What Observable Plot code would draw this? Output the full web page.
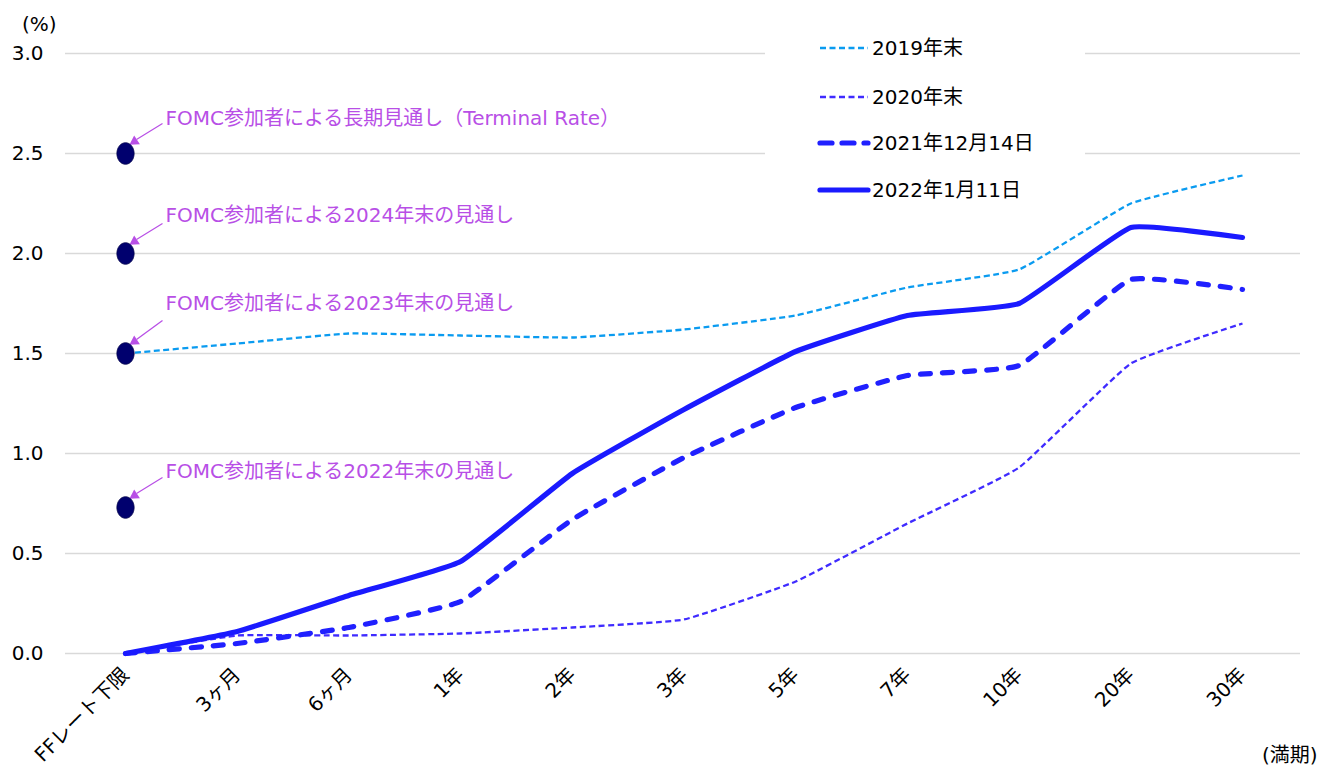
<!DOCTYPE html>
<html><head><meta charset="utf-8">
<script src="https://cdn.jsdelivr.net/npm/d3@7"></script>
<script src="https://cdn.jsdelivr.net/npm/@observablehq/plot@0.6"></script>
<style>
body{margin:0;background:#fff;font-family:"DejaVu Sans","Noto Sans CJK JP",sans-serif;}
#wrap{position:relative;width:1320px;height:769px;overflow:hidden;}
#legend{position:absolute;left:765px;top:28px;width:320px;height:188px;background:#fff;}
.note{position:absolute;font-size:20px;line-height:24px;color:#000;white-space:nowrap;}
</style></head>
<body><div id="wrap"></div>
<script>
// ---- data ----
const maturities = ["FFレート下限","3ヶ月","6ヶ月","1年","2年","3年","5年","7年","10年","20年","30年"];
const seriesNames = ["2019年末","2020年末","2021年12月14日","2022年1月11日"];
const end2019 = [1.50,1.55,1.60,1.59,1.58,1.62,1.69,1.83,1.92,2.25,2.39];
const end2020 = [0.00,0.09,0.09,0.10,0.13,0.17,0.36,0.65,0.93,1.45,1.65];
const dec2021 = [0.00,0.05,0.13,0.26,0.67,0.98,1.23,1.39,1.44,1.87,1.82];
const jan2022 = [0.00,0.11,0.29,0.46,0.90,1.22,1.51,1.69,1.75,2.13,2.08];
const fomcValues = [2.50,2.00,1.50,0.73];
const fomcLabels = ["FOMC参加者による長期見通し（Terminal Rate）","FOMC参加者による2024年末の見通し","FOMC参加者による2023年末の見通し","FOMC参加者による2022年末の見通し"];
const yTicks = [0,0.5,1.0,1.5,2.0,2.5,3.0];

// ---- styles ----
const styles = [
  {stroke:"#0a9bf0", strokeWidth:2.3, dash:"6,3.5", cap:"butt"},
  {stroke:"#3f2bff", strokeWidth:2.3, dash:"6,3.5", cap:"butt"},
  {stroke:"#2020ff", strokeWidth:5.2, dash:"10,12", cap:"round"},
  {stroke:"#1a1aff", strokeWidth:5.2, dash:null, cap:"round"}
];
const seriesValues = [end2019,end2020,dec2021,jan2022];
const font = '"DejaVu Sans","Noto Sans CJK JP",sans-serif';
const annColor = "#b84fe6";

// layout constants
const W = 1320, H = 769, mL = 65, mR = 20, mT = 53, mB = 116, inL = 60, inR = 58;
const stepX = (W - mR - inR - (mL + inL)) / (maturities.length - 1);
const pxY = (H - mT - mB) / 3;
const labelDy = [-35,-38,-50,-36];
const tailOff = [-30,-30,-33,-30];
const tail = {dx:37}, head = {dx:11, dy:-14};

const ellipse = {draw(ctx, size){
  const r = Math.sqrt(size/Math.PI), rx = r*0.8, ry = r, k = 0.5523;
  ctx.moveTo(rx,0);
  ctx.bezierCurveTo(rx,ry*k,rx*k,ry,0,ry);
  ctx.bezierCurveTo(-rx*k,ry,-rx,ry*k,-rx,0);
  ctx.bezierCurveTo(-rx,-ry*k,-rx*k,-ry,0,-ry);
  ctx.bezierCurveTo(rx*k,-ry,rx,-ry*k,rx,0);
  ctx.closePath();
}};

const idx = d3.range(maturities.length);
const lineMarks = seriesValues.map((vals,s) => Plot.line(idx, {
  x: i => i, y: i => vals[i], curve: "cardinal", tension: 0.65,
  stroke: styles[s].stroke, strokeWidth: styles[s].strokeWidth,
  strokeDasharray: styles[s].dash, strokeLinecap: styles[s].cap, strokeLinejoin: "round"
}));

const ann = fomcValues.map((v,k) => ({v, k, label: fomcLabels[k]}));

const chart = Plot.plot({
  width: W, height: H, marginLeft: mL, marginRight: mR, marginTop: mT, marginBottom: mB,
  style: {fontFamily: font, fontSize: "20px", color: "#000", background: "transparent", overflow: "visible"},
  x: {type: "linear", domain: [0, maturities.length - 1], insetLeft: inL, insetRight: inR},
  y: {domain: [0, 3]},
  marks: [
    Plot.ruleY(yTicks, {stroke: "#d9d9d9", strokeWidth: 1.3}),
    Plot.axisY({ticks: yTicks, tickFormat: d => d.toFixed(1), tickSize: 0, tickPadding: 22, label: null, fontSize: 20, fill: "#000"}),
    Plot.axisX({ticks: idx, tickFormat: i => maturities[i], tickSize: 0, tickPadding: 18, tickRotate: -45, label: null, fontSize: 20, fill: "#000"}),
    ...lineMarks,
    Plot.link(ann, {x1: () => tail.dx/stepX, y1: d => d.v - tailOff[d.k]/pxY, x2: () => head.dx/stepX, y2: d => d.v - head.dy/pxY, stroke: annColor, strokeWidth: 1.3}),
    Plot.dot(ann, {x: () => (head.dx - 2)/stepX, y: d => d.v - (head.dy + 2)/pxY, symbol: "triangle", r: 3.9, rotate: 237, fill: annColor, stroke: "none"}),
    Plot.dot(ann, {x: () => 0, y: d => d.v, symbol: ellipse, r: 10.8, fill: "#00006e", stroke: "#00004a", strokeWidth: 0.8}),
    Plot.text(ann, {x: () => 40/stepX, y: d => d.v - labelDy[d.k]/pxY, text: d => d.label, textAnchor: "start", fill: annColor, fontSize: 20, fontFamily: font}),
  ]
});
document.getElementById("wrap").appendChild(chart);

// legend
const lg = d3.select("#wrap").append("div").attr("id","legend");
const lsvg = lg.append("svg").attr("width",320).attr("height",188);
const rowY = [20, 69, 115, 162];
seriesNames.forEach((name,s) => {
  const g = lsvg.append("g").attr("transform",`translate(0,${rowY[s]})`);
  g.append("line").attr("x1",55).attr("x2",103).attr("y1",0).attr("y2",0)
    .attr("stroke",styles[s].stroke).attr("stroke-width",styles[s].strokeWidth)
    .attr("stroke-dasharray",styles[s].dash ? (s===2 ? "12,10" : "6,3.5") : null)
    .attr("stroke-linecap",styles[s].cap);
  g.append("text").attr("x",107).attr("y",0).attr("dy","0.35em")
    .attr("font-size",20).attr("font-family",font).attr("fill","#000").text(name);
});

d3.select("#wrap").append("div").attr("class","note").style("left","22px").style("top","12px").text("(%)");
d3.select("#wrap").append("div").attr("class","note").style("left","1262px").style("top","743px").text("(満期)");
</script>
</body></html>
